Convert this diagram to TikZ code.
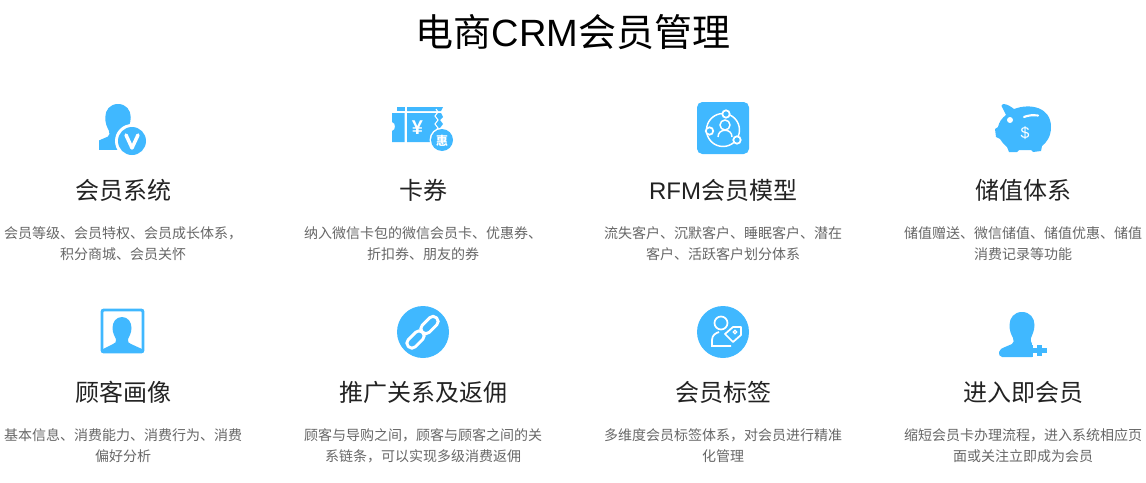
\documentclass[tikz,border=0pt]{standalone}
\usepackage{fontspec}
\setmainfont{Liberation Sans}
\newfontfamily\cjk{Noto Sans CJK SC}
\definecolor{iconblue}{RGB}{64,184,255}
\definecolor{headgray}{RGB}{34,34,34}
\definecolor{descgray}{RGB}{102,102,102}
\tikzset{
  title/.style={
    font=\fontsize{28.5pt}{34pt}\selectfont,
    text=black
    },
  heading/.style={
    font=\fontsize{18pt}{22pt}\selectfont,
    text=headgray,
    align=center
    },
  desc/.style={
    font=\fontsize{10.5pt}{15.75pt}\selectfont\cjk,
    text=descgray,
    align=center
    },
  whiteline/.style={draw=white, line width=1.3pt, fill=iconblue},
  chainlink/.style={draw=white, line width=2.2pt, rounded corners=3.5pt},
  person/.pic={
    \fill[iconblue] (0,0) .. controls (8,0) and (12.5,6) .. (12.5,13)
      .. controls (12.5,19) and (10,23) .. (9,26)
      .. controls (8,30) and (10,32) .. (12,33)
      -- (20,37) .. controls (23,39) and (23,42) .. (23,45)
      -- (-20,45) .. controls (-23,45) and (-23,42) .. (-23,40)
      .. controls (-22,37) and (-20,36) .. (-17,35)
      -- (-10,32) .. controls (-8,31) and (-8,28) .. (-9,26)
      .. controls (-11,22) and (-12.5,19) .. (-12.5,13)
      .. controls (-12.5,6) and (-8,0) .. (0,0) -- cycle;
    },
}

\begin{document}
\begin{tikzpicture}[
            x = 0.75pt, y = -0.75pt, % one unit is one pixel of the reference
            node distance = 40pt % heading to description
        ]
         \useasboundingbox (0,0) rectangle (1146,482);

         \node[title] (t) at (573,32) {{\cjk 电商}CRM{\cjk 会员管理}};

         % first row
         \node[heading] (h1) at (123,190) {\cjk 会员系统};
         \node[heading] (h2) at (423,190) {\cjk 卡券};
         \node[heading] (h3) at (723,190) {RFM{\cjk 会员模型}};
         \node[heading] (h4) at (1023,190) {\cjk 储值体系};
         \node[desc] (d1) [below of=h1] {会员等级、会员特权、会员成长体系，\\积分商城、会员关怀};
         \node[desc] (d2) [below of=h2] {纳入微信卡包的微信会员卡、优惠券、\\折扣券、朋友的券};
         \node[desc] (d3) [below of=h3] {流失客户、沉默客户、睡眠客户、潜在\\客户、活跃客户划分体系};
         \node[desc] (d4) [below of=h4] {储值赠送、微信储值、储值优惠、储值\\消费记录等功能};

         % second row
         \node[heading] (h5) at (123,392) {\cjk 顾客画像};
         \node[heading] (h6) at (423,392) {\cjk 推广关系及返佣};
         \node[heading] (h7) at (723,392) {\cjk 会员标签};
         \node[heading] (h8) at (1023,392) {\cjk 进入即会员};
         \node[desc] (d5) [below of=h5] {基本信息、消费能力、消费行为、消费\\偏好分析};
         \node[desc] (d6) [below of=h6] {顾客与导购之间，顾客与顾客之间的关\\系链条，可以实现多级消费返佣};
         \node[desc] (d7) [below of=h7] {多维度会员标签体系，对会员进行精准\\化管理};
         \node[desc] (d8) [below of=h8] {缩短会员卡办理流程，进入系统相应页\\面或关注立即成为会员};

         % member icon
         \begin{scope}
           \clip (99,100) rectangle (150,156);
           \pic[scale=1.02] at (118,104) {person};
         \end{scope}
         \fill[white] (132,141) circle (17);
         \fill[iconblue] (132,141) circle (14);
         \draw[white, line width=2.6pt, line cap=round, line join=round] (126,135) -- (132,148) -- (138,135);

         % coupon icon
         \fill[iconblue] (397,107) -- (405,107) -- (405,111) -- (397,111) -- cycle;
         \fill[iconblue] (407,107) -- (443,107) -- (441,111) -- (407,111) -- cycle;
         \fill[iconblue] (392,113) -- (404.5,113) -- (404.5,142) -- (392,142) -- (392,131)
            .. controls (396,130) and (396,123) .. (392,122) -- cycle;
         \fill[iconblue] (407,113) -- (441,113) -- (443,117) -- (440,120) -- (443,124) -- (440,128)
            -- (443,132) -- (440,142) -- (407,142) -- cycle;
         \draw[white, line width=0.8pt] (436,109) -- (438,112) -- (435,116) -- (438,120) -- (435,124) -- (438,128) -- (435,132);
         \node[text=white, font=\fontsize{15pt}{15pt}\selectfont\bfseries] (yen) at (417.5,128) {¥};
         \fill[white] (442,140) circle (12.5);
         \fill[iconblue] (442,140) circle (11);
         \node[text=white, font=\fontsize{9pt}{9pt}\selectfont\cjk\bfseries, inner sep=0pt] (hui) at (442,140.5) {惠};

         % rfm icon
         \fill[iconblue, rounded corners=4pt] (697,102) rectangle (749,154);
         \draw[white, line width=1.1pt] (723,130) circle (16.5);
         \draw[white, line width=1.1pt] (725,125) circle (5);
         \draw[white, line width=1.1pt] (718,137) .. controls (718,128) and (732,128) .. (732,137);
         \draw[whiteline] (726,114) circle (3.7);
         \draw[whiteline] (709.5,131) circle (3.7);
         \draw[whiteline] (737,140) circle (3.7);

         % piggy icon
         \fill[iconblue] (1003,104) .. controls (1007,104) and (1010,106) .. (1014,109)
            .. controls (1030,103) and (1051,107) .. (1051,127)
            .. controls (1051,137) and (1046,143) .. (1042,146)
            -- (1041,151) -- (1033,152) -- (1031,150) -- (1019,150) -- (1017,152) -- (1009,152) -- (1007,147)
            .. controls (1004,145) and (1002,142) .. (1000,139)
            -- (996,137) -- (995,129) -- (998,127)
            .. controls (999,122) and (1002,118) .. (1006,115)
            -- (1003,109) .. controls (1001,107) and (1001,104) .. (1003,104) -- cycle;
         \fill[white] (1010,120) circle (3);
         \draw[white, line width=1.6pt, line cap=round] (1024,117) .. controls (1029,115) and (1033,115) .. (1038,115.5);
         \node[text=white, font=\fontsize{12pt}{12pt}\selectfont, inner sep=0pt] (dollar) at (1025,133) {\$};

         % portrait icon
         \draw[iconblue, line width=2.2pt, rounded corners=1.5pt] (102,310) rectangle (143,352);
         \fill[iconblue] (122,317) .. controls (128,317) and (131.5,322) .. (131.5,328)
            .. controls (131.5,333) and (129,337) .. (128,339)
            .. controls (127,342) and (129,343) .. (131,344) -- (142,349) -- (142,351) -- (103,351) -- (103,349)
            -- (113,344) .. controls (115,343) and (117,342) .. (116,339)
            .. controls (115,337) and (112.5,333) .. (112.5,328)
            .. controls (112.5,322) and (116,317) .. (122,317) -- cycle;

         % link icon
         \fill[iconblue] (423,332) circle (26);
         \draw[chainlink, rotate around={45:(415.5,339.5)}] (405.5,334.5) rectangle (425.5,344.5);
         \draw[chainlink, rotate around={45:(429.5,325)}] (419.5,320) rectangle (439.5,330);

         % tag icon
         \fill[iconblue] (723,332) circle (26);
         \draw[white, line width=1.3pt] (721,323) circle (6.5);
         \draw[white, line width=1.3pt] (731,346) -- (712,346) -- (712,340) .. controls (712,335) and (716,333) .. (719,332);
         \draw[whiteline, line join=round] (725,334) -- (733,327) -- (741,327) -- (741,335) -- (733,342) -- cycle;
         \draw[white, line width=0.9pt] (735,332) circle (1.7);

         % new member icon
         \pic at (1022,312) {person};
         \fill[white] (1032,338) rectangle (1050,361);
         \fill[iconblue] (1030.5,345) rectangle (1033,357);
         \fill[iconblue] (1037,345) rectangle (1042,356);
         \fill[iconblue] (1032,348) rectangle (1047,353);
\end{tikzpicture}
\end{document}
